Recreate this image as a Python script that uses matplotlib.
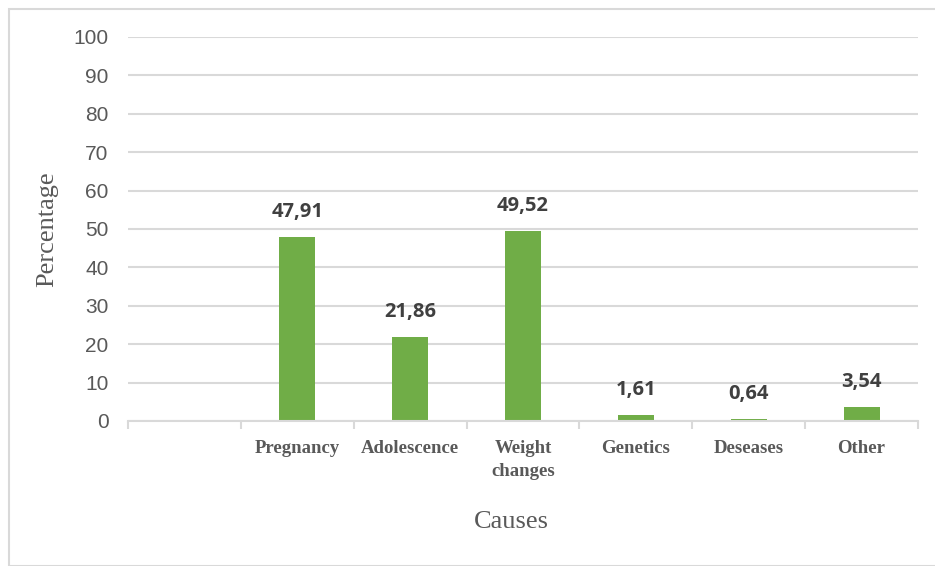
import matplotlib
matplotlib.use("Agg")
import matplotlib.pyplot as plt
from matplotlib.patches import Rectangle

categories = ["", "Pregnancy", "Adolescence", "Weight\nchanges", "Genetics", "Deseases", "Other"]
values = [None, 47.91, 21.86, 49.52, 1.61, 0.64, 3.54]
value_labels = ["", "47,91", "21,86", "49,52", "1,61", "0,64", "3,54"]
y_ticks = [0, 10, 20, 30, 40, 50, 60, 70, 80, 90, 100]

fig = plt.figure(figsize=(9.35, 5.66), dpi=100)
fig.patches.append(Rectangle((9/935, 0), 1, 1 - 9/566, transform=fig.transFigure,
                             fill=False, edgecolor="#d9d9d9", linewidth=1.5))
ax = fig.add_axes([128/935, 1 - 421/566, (918 - 128)/935, (421 - 37)/566])

xs = list(range(len(categories)))
for x, v, lab in zip(xs, values, value_labels):
    if v is None:
        continue
    ax.bar(x, v, width=0.32, color="#70ad47", zorder=3)
    ax.annotate(lab, (x, v), xytext=(0, 18), textcoords="offset points",
                ha="center", va="center", fontsize=14.5, fontweight="bold",
                color="#404040", family="Open Sans")

ax.set_xlim(-0.5, len(categories) - 0.5)
ax.set_ylim(0, 100)
ax.set_yticks(y_ticks)
ax.set_yticklabels([str(t) for t in y_ticks], fontsize=15, color="#595959",
                   family="Liberation Sans")
ax.tick_params(axis="y", length=0, pad=14)
ax.grid(axis="y", color="#d9d9d9", linewidth=1.5, zorder=0)

ax.set_xticks(xs)
ax.set_xticklabels(categories, fontsize=13.5, fontweight="bold", color="#595959",
                   family="Liberation Serif", linespacing=1.45)
ax.tick_params(axis="x", length=0, pad=14)
# boundary ticks
ax.set_xticks([x - 0.5 for x in range(len(categories) + 1)], minor=True)
ax.tick_params(axis="x", which="minor", length=6, color="#d9d9d9", width=1.5)

for s in ["top", "right", "left"]:
    ax.spines[s].set_visible(False)
ax.spines["bottom"].set_color("#d9d9d9")
ax.spines["bottom"].set_linewidth(1.5)
ax.spines["bottom"].set_zorder(4)

fig.text(47/935, 1 - 229/566, "Percentage", rotation=90, ha="center", va="center",
         fontsize=19, color="#595959", family="Liberation Serif")
fig.text(511/935, 1 - 522/566, "Causes", ha="center", va="center",
         fontsize=19, color="#595959", family="Liberation Serif")

fig.savefig("out.png", dpi=100)
